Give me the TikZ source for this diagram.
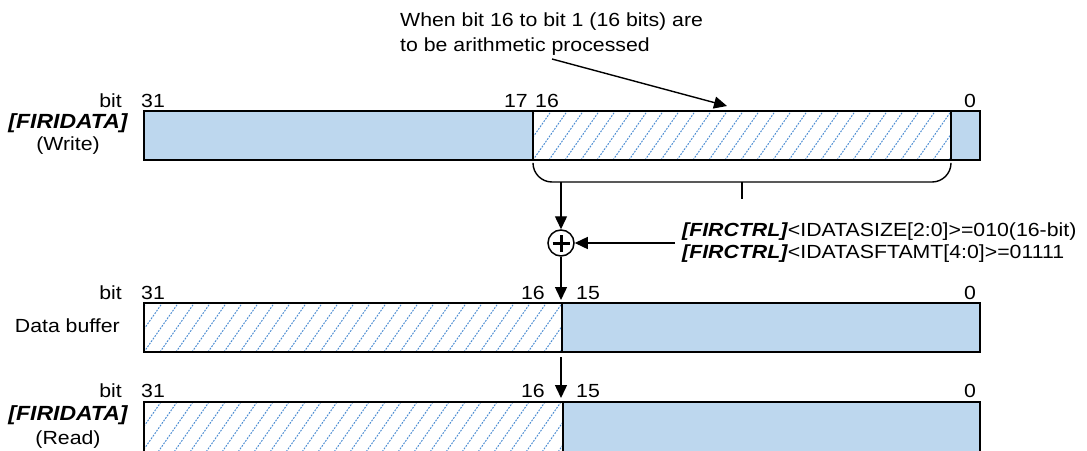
\documentclass[tikz,border=0pt]{standalone}
\usepackage{fontspec}
\setmainfont{Liberation Sans}[FakeStretch=1.12]
\usetikzlibrary{arrows.meta}
\definecolor{regfill}{RGB}{189,215,238}
\definecolor{hatchblue}{RGB}{75,140,210}

\tikzset{
  seg/.style={draw=black, line width=1.8pt, inner sep=0pt, outer sep=0pt,
              minimum height=49pt, anchor=north west},
  solidseg/.style={seg, fill=regfill},
  hatchseg/.style={seg, fill=white, path picture={
      \foreach \k in {-8,...,28}{
        \draw[hatchblue, line width=1pt, dash pattern=on 1.8pt off 1.3pt]
          ([xshift=\k*16pt]path picture bounding box.south west) -- ++(70pt,100pt);}}},
  lbl/.style={font=\fontsize{19}{22}\selectfont, inner sep=0pt},
  reglbl/.style={lbl, font=\fontsize{20.5}{22}\selectfont\bfseries\itshape},
  conn/.style={line width=1.4pt},
  tip/.style={-{Triangle[length=13pt,width=12pt]}},
}

\begin{document}
\begin{tikzpicture}[x=1pt,y=-1pt]
\useasboundingbox (0,0) rectangle (1087,450);
\clip (0,0) rectangle (1087,450);

% note at the top
\node[lbl, anchor=base west] (ann1) at (400,26) {When bit 16 to bit 1 (16 bits) are};
\node[lbl, anchor=base west] (ann2) at (400,51) {to be arithmetic processed};

% [FIRIDATA] write register
\node[solidseg, minimum width=389pt] (w31) at (144,111) {};
\node[hatchseg, minimum width=418pt] (w16) at (533,111) {};
\node[solidseg, minimum width=29pt]  (w0)  at (951,111) {};

\node[lbl, anchor=base east] (bitw) at (122,107) {bit};
\node[lbl, anchor=base west] (w31n) at (141,107) {31};
\node[lbl, anchor=base east] (w17n) at (528,107) {17};
\node[lbl, anchor=base west] (w16n) at (535,107) {16};
\node[lbl, anchor=base]      (w0n)  at (970,107) {0};
\node[reglbl, anchor=base]   (regw) at (68,128) {[FIRIDATA]};
\node[lbl, anchor=base]      (modw) at (68,150) {(Write)};

% arrow from the note into the processed field
\coordinate (annfrom) at (552,59);
\coordinate (annto) at (727,106);
\draw[conn, tip] (annfrom) -- (annto);

% brace under bits 16..1
\draw[conn, rounded corners=19pt] ([yshift=-4pt]w16.south west) -- (533,182) -- (951,182) -- ([yshift=-4pt]w0.south west);
\draw[conn] (742,182) -- (742,199);
\coordinate (brk) at (561,182);

% adder
\node[draw, circle, line width=1.5pt, minimum size=26pt, inner sep=0pt] (plus) at (561,243) {};
\draw[line width=3pt] ([xshift=-8.5pt]plus.center) -- ([xshift=8.5pt]plus.center);
\draw[line width=3pt] ([yshift=-8.5pt]plus.center) -- ([yshift=8.5pt]plus.center);

\node[lbl, anchor=west, align=left] (ctrl) at (682,243)
  {\textbf{\textit{[FIRCTRL]}}<IDATASIZE[2:0]>=010(16-bit)\\
   \textbf{\textit{[FIRCTRL]}}<IDATASFTAMT[4:0]>=01111};

\draw[conn, tip] (brk) -- (plus.north);
\draw[conn, tip] ([xshift=-7pt]ctrl.west) -- (plus.east);

% data buffer
\node[hatchseg, minimum width=418pt] (b31) at (144,303) {};
\node[solidseg, minimum width=418pt] (b15) at (562,303) {};

\node[lbl, anchor=base east] (bitb) at (122,299) {bit};
\node[lbl, anchor=base west] (b31n) at (141,299) {31};
\node[lbl, anchor=base east] (b16n) at (545,299) {16};
\node[lbl, anchor=base west] (b15n) at (576,299) {15};
\node[lbl, anchor=base]      (b0n)  at (970,299) {0};
\node[lbl, anchor=base east] (bufl) at (120,332) {Data buffer};

\draw[conn, tip] (plus.south) -- ([yshift=3pt,xshift=-1pt]b15.north west);

% [FIRIDATA] read register
\node[hatchseg, minimum width=419pt, minimum height=70pt] (r31) at (144,402) {};
\node[solidseg, minimum width=417pt, minimum height=70pt] (r15) at (563,402) {};

\node[lbl, anchor=base east] (bitr) at (122,397) {bit};
\node[lbl, anchor=base west] (r31n) at (141,397) {31};
\node[lbl, anchor=base east] (r16n) at (545,397) {16};
\node[lbl, anchor=base west] (r15n) at (576,397) {15};
\node[lbl, anchor=base]      (r0n)  at (970,397) {0};
\node[reglbl, anchor=base]   (regr) at (68,420) {[FIRIDATA]};
\node[lbl, anchor=base]      (modr) at (68,444) {(Read)};

\draw[conn, tip] ([shift={(-1pt,-5pt)}]b15.south west) -- ([shift={(-2pt,4pt)}]r15.north west);
\end{tikzpicture}
\end{document}
